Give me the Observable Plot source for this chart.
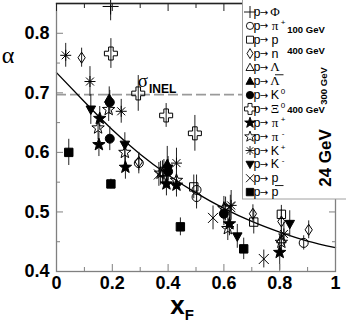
<!DOCTYPE html>
<html><head><meta charset="utf-8">
<script src="https://cdn.jsdelivr.net/npm/d3@7"></script>
<script src="https://cdn.jsdelivr.net/npm/@observablehq/plot@0.6"></script>
<style>body{margin:0;background:#fff} #chart{width:346px;height:322px;position:relative}</style>
</head><body><div id="chart"></div>
<script>
// ---- data (xF, alpha, error) ----
const sigmaInel = 0.697;
const curveX = [0, 0.1, 0.2, 0.3, 0.4, 0.5, 0.6, 0.7, 0.8, 0.9, 1.0];
const curveA = [0.734, 0.685, 0.638, 0.597, 0.562, 0.532, 0.506, 0.484, 0.466, 0.451, 0.44];

const phi       = [[0.194, 0.845, 0.024]];
const piPlus100 = [[0.295, 0.582, 0.018], [0.502, 0.537, 0.025], [0.502, 0.525, 0.02], [0.606, 0.505, 0.02], [0.886, 0.448, 0.012]];
const pp100     = [[0.385, 0.568, 0.02], [0.492, 0.542, 0.02], [0.707, 0.483, 0.02], [0.806, 0.496, 0.015]];
const n400      = [[0.09, 0.759, 0.016], [0.295, 0.584, 0.015], [0.704, 0.497, 0.015], [0.806, 0.484, 0.02], [0.904, 0.47, 0.015]];
const lambda300 = [[0.38, 0.566, 0.02], [0.806, 0.454, 0.02]];
const lambdaBar300 = [[0.189, 0.69, 0.02], [0.397, 0.58, 0.03]];
const k0300     = [[0.191, 0.684, 0.02], [0.191, 0.623, 0.02], [0.4, 0.568, 0.02], [0.6, 0.497, 0.02]];
const xi0400    = [[0.195, 0.766, 0.025], [0.293, 0.699, 0.03], [0.393, 0.662, 0.02], [0.496, 0.632, 0.03]];
const piPlus24  = [[0.155, 0.657, 0.02], [0.152, 0.613, 0.02], [0.247, 0.575, 0.02], [0.394, 0.547, 0.02], [0.43, 0.545, 0.02], [0.62, 0.48, 0.02], [0.8, 0.432, 0.03]];
const piMinus24 = [[0.187, 0.672, 0.02], [0.149, 0.641, 0.02], [0.245, 0.6, 0.02], [0.373, 0.565, 0.02], [0.43, 0.553, 0.02], [0.6, 0.506, 0.02], [0.614, 0.472, 0.02], [0.806, 0.449, 0.02]];
const kPlus24   = [[0.033, 0.763, 0.02], [0.12, 0.719, 0.025], [0.232, 0.669, 0.02], [0.43, 0.582, 0.025], [0.626, 0.511, 0.025], [0.815, 0.463, 0.02]];
const kMinus24  = [[0.123, 0.672, 0.025], [0.245, 0.613, 0.02], [0.4, 0.573, 0.02], [0.648, 0.459, 0.02], [0.836, 0.48, 0.022]];
const p24       = [[0.367, 0.563, 0.02], [0.561, 0.49, 0.02], [0.623, 0.508, 0.02], [0.743, 0.421, 0.015]];
const pbar24    = [[0.044, 0.6, 0.022], [0.195, 0.547, 0.008], [0.444, 0.475, 0.015], [0.671, 0.438, 0.018]];

const xMajor = [0, 0.2, 0.4, 0.6, 0.8, 1];
const xTickLabels = ["0", "0.2", "0.4", "0.6", "0.8", "1"];
const xMinor = [0.1, 0.3, 0.5, 0.7, 0.9];
const yMajor = [0.4, 0.5, 0.6, 0.7, 0.8];
const yTickLabels = ["0.4", "0.5", "0.6", "0.7", "0.8"];
const yMinor = [0.45, 0.55, 0.65, 0.75];

const legendMain = ["Φ", "π", "p", "n", "Λ", "Λ", "K", "Ξ", "π", "π", "K", "K", "p", "p"];
const legendSup  = ["", "+", "", "", "", "", "0", "0", "+", "-", "+", "-", "", ""];
const legendBar  = [false, false, false, false, false, true, false, false, false, false, false, false, false, true];
const energyLabels = ["100 GeV", "400 GeV", "300 GeV", "400 GeV", "24 GeV"];

// ---- symbols ----
const R3 = Math.sqrt(3);
const Sym = {
  circle: h => ({draw(c){ c.moveTo(h, 0); c.arc(0, 0, h, 0, 2 * Math.PI); c.closePath(); }}),
  square: h => ({draw(c){ c.moveTo(-h, -h); c.lineTo(h, -h); c.lineTo(h, h); c.lineTo(-h, h); c.closePath(); }}),
  diamond: (w, h) => ({draw(c){ c.moveTo(0, -h); c.lineTo(w, 0); c.lineTo(0, h); c.lineTo(-w, 0); c.closePath(); }}),
  triUp: h => ({draw(c){ c.moveTo(0, -h); c.lineTo(h * R3 / 2 * 1.1, h / 2 + 1); c.lineTo(-h * R3 / 2 * 1.1, h / 2 + 1); c.closePath(); }}),
  triDown: h => ({draw(c){ c.moveTo(0, h); c.lineTo(h * R3 / 2 * 1.1, -h / 2 - 1); c.lineTo(-h * R3 / 2 * 1.1, -h / 2 - 1); c.closePath(); }}),
  star: (ro, ri) => ({draw(c){ for (let i = 0; i < 10; i++) { const r = i % 2 ? ri : ro; const a = -Math.PI / 2 + i * Math.PI / 5; const px = r * Math.cos(a), py = r * Math.sin(a); i ? c.lineTo(px, py) : c.moveTo(px, py); } c.closePath(); }}),
  crossO: (e, w) => ({draw(c){ c.moveTo(-w, -e); c.lineTo(w, -e); c.lineTo(w, -w); c.lineTo(e, -w); c.lineTo(e, w); c.lineTo(w, w); c.lineTo(w, e); c.lineTo(-w, e); c.lineTo(-w, w); c.lineTo(-e, w); c.lineTo(-e, -w); c.lineTo(-w, -w); c.closePath(); }}),
  plus: e => ({draw(c){ c.moveTo(-e, 0); c.lineTo(e, 0); c.moveTo(0, -e); c.lineTo(0, e); }}),
  times: e => ({draw(c){ c.moveTo(-e, -e); c.lineTo(e, e); c.moveTo(-e, e); c.lineTo(e, -e); }}),
  aster: e => ({draw(c){ const d = e * 0.72; c.moveTo(-e, 0); c.lineTo(e, 0); c.moveTo(0, -e); c.lineTo(0, e); c.moveTo(-d, -d); c.lineTo(d, d); c.moveTo(-d, d); c.lineTo(d, -d); }})
};

const series = [
  {data: phi, symbol: Sym.plus(8), lsym: Sym.plus(6), fill: "none"},
  {data: piPlus100, symbol: Sym.circle(4.5), lsym: Sym.circle(3.6), fill: "none"},
  {data: pp100, symbol: Sym.square(4.2), lsym: Sym.square(3.5), fill: "none"},
  {data: n400, symbol: Sym.diamond(3.6, 5.5), lsym: Sym.diamond(3, 5), fill: "none"},
  {data: lambda300, symbol: Sym.triUp(5), lsym: Sym.triUp(4.2), fill: "none"},
  {data: lambdaBar300, symbol: Sym.triUp(5), lsym: Sym.triUp(4.2), fill: "black"},
  {data: k0300, symbol: Sym.circle(4.5), lsym: Sym.circle(3.7), fill: "black"},
  {data: xi0400, symbol: Sym.crossO(6.5, 2.3), lsym: Sym.crossO(5.5, 2), fill: "none"},
  {data: piPlus24, symbol: Sym.star(6.5, 2.7), lsym: Sym.star(5.6, 2.3), fill: "black"},
  {data: piMinus24, symbol: Sym.star(6.5, 2.7), lsym: Sym.star(5.6, 2.3), fill: "none"},
  {data: kPlus24, symbol: Sym.aster(5.5), lsym: Sym.aster(4.5), fill: "none"},
  {data: kMinus24, symbol: Sym.triDown(5), lsym: Sym.triDown(4.2), fill: "black"},
  {data: p24, symbol: Sym.times(5), lsym: Sym.times(4), fill: "none"},
  {data: pbar24, symbol: Sym.square(4.2), lsym: Sym.square(3.7), fill: "black"}
];

const toRows = arr => arr.map(([x, a, e]) => ({x, a, e}));
const allRows = series.flatMap(s => toRows(s.data));
const curve = curveX.map((x, i) => ({x, a: curveA[i]}));

const font = "Liberation Sans, Arial, Helvetica, sans-serif";
const serif = "Liberation Serif, DejaVu Serif, serif";
const axisCol = "#808080";

const plot = Plot.plot({
  width: 346, height: 322,
  marginLeft: 56, marginRight: 11, marginTop: 3, marginBottom: 51,
  x: {domain: [0, 1]},
  y: {domain: [0.4, 0.85]},
  style: {fontFamily: font, background: "white", overflow: "visible"},
  marks: [
    Plot.ruleY([sigmaInel], {stroke: "#9a9a9a", strokeWidth: 1.6, strokeDasharray: "10,4"}),
    Plot.line(curve, {x: "x", y: "a", curve: "natural", stroke: "black", strokeWidth: 1.3}),
    Plot.ruleX(allRows, {x: "x", y1: d => d.a - d.e, y2: d => d.a + d.e, stroke: "#222", strokeWidth: 1, clip: true}),
    ...series.map(s => Plot.dot(toRows(s.data), {x: "x", y: "a", symbol: s.symbol, r: 4, fill: s.fill, stroke: "black", strokeWidth: 1})),
    Plot.frame({stroke: axisCol, strokeWidth: 1.3}),
    Plot.frame({anchor: "top", stroke: "#222", strokeWidth: 1.3}),
    Plot.axisX(xMajor, {anchor: "bottom", tickSize: -7, text: null, stroke: axisCol, label: null}),
    Plot.axisX(xMinor, {anchor: "bottom", tickSize: -4, text: null, stroke: axisCol, label: null}),
    Plot.axisX(xMajor, {anchor: "top", tickSize: -7, text: null, stroke: "#222", label: null}),
    Plot.axisX(xMinor, {anchor: "top", tickSize: -4, text: null, stroke: "#222", label: null}),
    Plot.axisY(yMajor, {anchor: "left", tickSize: -7, text: null, stroke: axisCol, label: null}),
    Plot.axisY(yMinor, {anchor: "left", tickSize: -4, text: null, stroke: axisCol, label: null}),
    Plot.axisY(yMajor, {anchor: "right", tickSize: -7, text: null, stroke: axisCol, label: null}),
    Plot.axisY(yMinor, {anchor: "right", tickSize: -4, text: null, stroke: axisCol, label: null}),
    Plot.axisX(xMajor, {anchor: "bottom", tickSize: 0, tickPadding: 5, tickFormat: d => xTickLabels[xMajor.indexOf(d)], fontSize: 18, fontWeight: "bold", fill: "black", label: null}),
    Plot.axisY(yMajor, {anchor: "left", tickSize: 0, tickPadding: 7, tickFormat: d => yTickLabels[yMajor.indexOf(d)], fontSize: 18, fontWeight: "bold", fill: "black", label: null})
  ]
});

document.getElementById("chart").appendChild(plot);
const svg = d3.select(plot);
const xs = plot.scale("x"), ys = plot.scale("y");

// sigma_INEL annotation (single text element)
const sg = svg.append("text").attr("x", xs.apply(0.362)).attr("y", ys.apply(0.709)).attr("fill", "black");
sg.append("tspan").attr("font-family", serif).attr("font-size", 19).text("σ");
sg.append("tspan").attr("font-family", font).attr("font-weight", "bold").attr("font-size", 12).attr("dx", 1).attr("dy", 6).text("INEL");

// axis titles
svg.append("text").attr("x", 8).attr("y", 63).attr("text-anchor", "middle")
  .attr("font-family", serif).attr("font-size", 24).attr("fill", "black").text("α");
const xt = svg.append("text").attr("x", 182).attr("y", 314).attr("font-family", font).attr("font-weight", "bold").attr("fill", "black");
xt.append("tspan").attr("font-size", 26).text("x");
xt.append("tspan").attr("font-size", 15).attr("dy", 6).text("F");

// legend
const lg = svg.append("g");
lg.append("rect").attr("x", 242.5).attr("y", -2).attr("width", 120).attr("height", 201).attr("fill", "white").attr("stroke", "#a0a0a0");
const serifSet = new Set(["Φ", "π", "Λ", "Ξ"]);
series.forEach((s, i) => {
  const cy = 12 + 13.85 * i;
  lg.append("path").attr("transform", `translate(250,${cy})`).attr("d", d3.symbol(s.lsym)())
    .attr("fill", s.fill).attr("stroke", "black").attr("stroke-width", 0.9);
  lg.append("text").attr("x", 257).attr("y", cy + 4).attr("font-family", font).attr("font-size", 12.5).attr("fill", "black").text("p");
  lg.append("text").attr("x", 264).attr("y", cy + 3.5).attr("font-family", "DejaVu Sans, sans-serif").attr("font-size", 10).attr("fill", "black").text("→");
  const isSerif = serifSet.has(legendMain[i]);
  const mx = 275;
  lg.append("text").attr("x", mx).attr("y", cy + 4).attr("font-family", isSerif ? serif : font)
    .attr("font-size", isSerif ? 13 : 12.5).attr("fill", "black").text(legendMain[i]);
  if (legendBar[i]) {
    lg.append("line").attr("x1", mx).attr("x2", mx + 8.5).attr("y1", cy - 6.5).attr("y2", cy - 6.5).attr("stroke", "black").attr("stroke-width", 0.9);
  }
  if (legendSup[i]) {
    lg.append("text").attr("x", mx + 8).attr("y", cy - 1).attr("font-family", font).attr("font-size", 8).attr("fill", "black").text(legendSup[i]);
  }
});
const eb = (txt, x, y, size, rot) => {
  const t = lg.append("text").attr("font-family", font).attr("font-weight", "bold").attr("font-size", size).attr("fill", "black").text(txt);
  if (rot) t.attr("text-anchor", "middle").attr("transform", `translate(${x},${y}) rotate(-90)`);
  else t.attr("x", x).attr("y", y);
};
eb(energyLabels[0], 306, 33, 9.5, false);
eb(energyLabels[1], 306, 54, 9.5, false);
eb(energyLabels[2], 327, 86, 9.5, true);
eb(energyLabels[3], 306, 113, 9.5, false);
eb(energyLabels[4], 331, 158, 17, true);
</script></body></html>
